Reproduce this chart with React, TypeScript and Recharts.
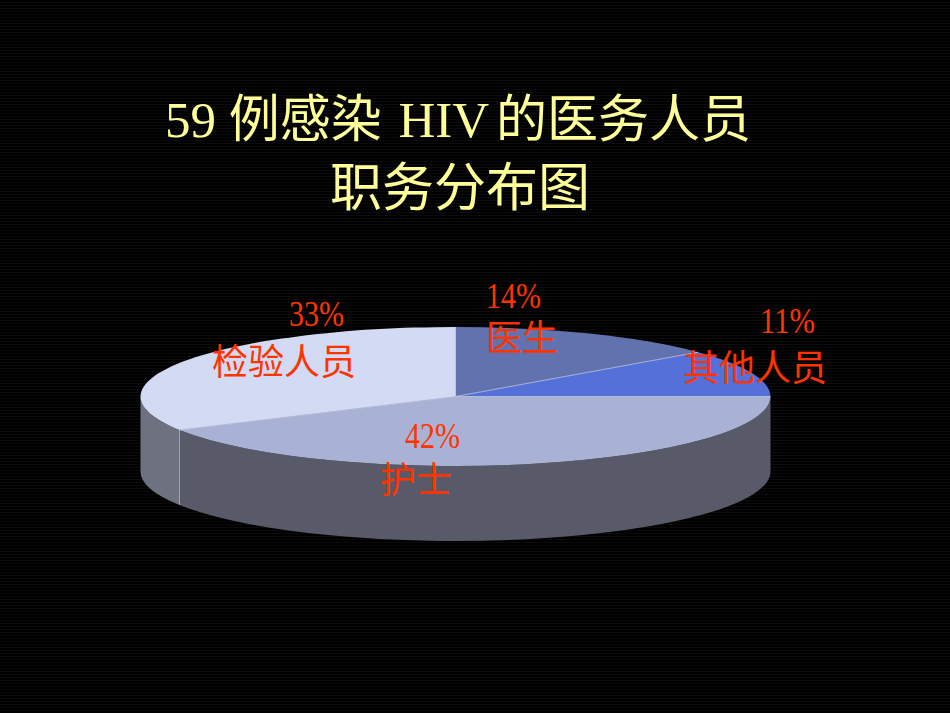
import { PieChart, Pie, Cell } from 'recharts';

const categories = ['医生', '其他人员', '护士', '检验人员'];
const shares = [14, 11, 42, 33];
const percentLabels = ['14%', '11%', '42%', '33%'];
const titleRuns = ['59 例感染 ', 'HIV ', '的医务人员'];
const titleSecondLine = '职务分布图';

const topColors = ['#6272ae', '#5570d8', '#a9b2d4', '#d2daf4'];
const sideColors = ['#3d4668', '#333f78', '#585a6a', '#6e7280'];

// label placement, in the same order as categories: [percent x, percent y, name x, name y]
const labelSpots = [
  [486, 308, 486, 351],
  [760, 333, 683, 381],
  [405, 448, 380, 493],
  [289, 326, 212, 375],
];

const WIDTH = 950;
const HEIGHT = 713;
const SQUASH = 69.5 / 315;
const DEPTH = 75;
const serif = '"Liberation Serif", "Noto Sans CJK SC", serif';
const cjk = '"Noto Sans CJK SC", sans-serif';

const pointOn = (cx: number, cy: number, r: number, deg: number) => {
  const a = (deg * Math.PI) / 180;
  return [cx + r * Math.cos(a), cy - r * SQUASH * Math.sin(a)];
};

function TopSlice(props: any) {
  const { cx, cy, outerRadius: r, startAngle, endAngle, fill } = props;
  const [x1, y1] = pointOn(cx, cy, r, startAngle);
  const [x2, y2] = pointOn(cx, cy, r, endAngle);
  const large = Math.abs(startAngle - endAngle) > 180 ? 1 : 0;
  const d = `M${cx},${cy}L${x1},${y1}A${r},${r * SQUASH} 0 ${large} 1 ${x2},${y2}Z`;
  return (
    <g>
      <path d={d} fill={fill} stroke="none" />
      <line x1={cx} y1={cy} x2={x1} y2={y1} stroke="#c5cdea" strokeWidth={0.8} />
    </g>
  );
}

// only the part of a slice facing the viewer gets a wall
function SideWall(props: any) {
  const { cx, cy, outerRadius: r, startAngle, endAngle, fill } = props;
  const from = Math.min(startAngle, 0);
  const to = Math.max(endAngle, -180);
  if (from <= to) return <g />;
  const [x1, y1] = pointOn(cx, cy, r, from);
  const [x2, y2] = pointOn(cx, cy, r, to);
  const ry = r * SQUASH;
  const d = `M${x1},${y1}A${r},${ry} 0 0 1 ${x2},${y2}L${x2},${y2 + DEPTH}A${r},${ry} 0 0 0 ${x1},${y1 + DEPTH}Z`;
  return (
    <g>
      <path d={d} fill={fill} stroke="none" />
      {from < 0 && <line x1={x1} y1={y1} x2={x1} y2={y1 + DEPTH} stroke="#b8bdd0" strokeWidth={0.8} />}
    </g>
  );
}

function SliceLabel({ index }: any) {
  const [px, py, nx, ny] = labelSpots[index];
  return (
    <g fill="#ff3300" fontSize={36}>
      <text x={px} y={py} fontFamily={serif} textLength={55} lengthAdjust="spacingAndGlyphs">
        {percentLabels[index]}
      </text>
      <text x={nx} y={ny} fontFamily={cjk}>
        {categories[index]}
      </text>
    </g>
  );
}

const chartData = categories.map((name, i) => ({ name, value: shares[i] }));

export default function App() {
  return (
    <div
      style={{
        position: 'absolute',
        left: 0,
        top: 0,
        width: WIDTH,
        height: HEIGHT,
        background: 'repeating-linear-gradient(#000 0 2px, #0b0b0b 2px 3px)',
      }}
    >
      <PieChart width={WIDTH} height={HEIGHT} margin={{ top: 0, right: 0, bottom: 0, left: 0 }}>
        <Pie
          data={chartData}
          dataKey="value"
          cx={455.5}
          cy={396.5}
          innerRadius={0}
          outerRadius={315}
          startAngle={90}
          endAngle={-270}
          stroke="none"
          shape={SideWall}
          isAnimationActive={false}
        >
          {chartData.map((d, i) => (
            <Cell key={d.name} fill={sideColors[i]} />
          ))}
        </Pie>
        <Pie
          data={chartData}
          dataKey="value"
          cx={455.5}
          cy={396.5}
          innerRadius={0}
          outerRadius={315}
          startAngle={90}
          endAngle={-270}
          stroke="none"
          shape={TopSlice}
          label={SliceLabel}
          labelLine={false}
          isAnimationActive={false}
        >
          {chartData.map((d, i) => (
            <Cell key={d.name} fill={topColors[i]} />
          ))}
        </Pie>
        <text x={165} y={137} fontSize={51} fill="#ffff99" fontFamily={serif}>
          <tspan>{titleRuns[0]}</tspan>
          <tspan dx={4}>{titleRuns[1]}</tspan>
          <tspan dx={-5}>{titleRuns[2]}</tspan>
        </text>
        <text x={460} y={206} textAnchor="middle" fontSize={52} fill="#ffff99" fontFamily={serif}>
          {titleSecondLine}
        </text>
      </PieChart>
    </div>
  );
}
